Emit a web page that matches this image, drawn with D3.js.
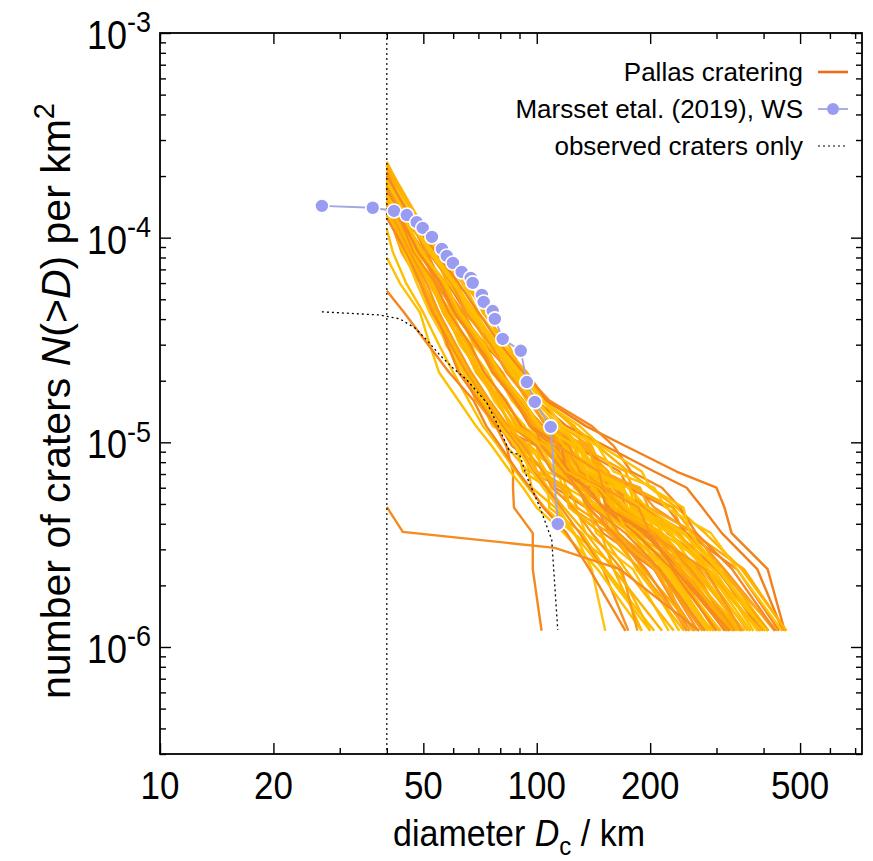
<!DOCTYPE html>
<html><head><meta charset="utf-8">
<script src="https://cdn.jsdelivr.net/npm/d3@7"></script>
<style>
html,body{margin:0;padding:0;background:#fff;}
svg{display:block;font-family:"Liberation Sans",Arial,Helvetica,sans-serif;}
</style>
</head><body>
<svg id="chart" width="873" height="861"></svg>
<script>
// ---------------- data ----------------
const xTickValues = [10, 20, 50, 100, 200, 500];
const yTickExponents = [-3, -4, -5, -6];
const cutoffD = 40; // km, lower limit of simulated craters

// Marsset et al. (2019), WS
const marssetD = [26.9, 36.7, 41.8, 45.2, 48.0, 49.8, 52.7, 56.0, 57.7, 59.9, 63.2, 66.8, 67.6, 71.5, 72.3, 76.4, 77.4, 81.2, 90.7, 94.1, 98.8, 108.9, 113.7];
const marssetN = [1.43e-4, 1.40e-4, 1.35e-4, 1.29e-4, 1.19e-4, 1.115e-4, 1.008e-4, 8.81e-5, 8.14e-5, 7.52e-5, 6.80e-5, 6.36e-5, 6.01e-5, 5.25e-5, 4.85e-5, 4.38e-5, 4.01e-5, 3.20e-5, 2.80e-5, 1.97e-5, 1.575e-5, 1.19e-5, 3.99e-6];

// observed craters only
const observedD = [26.9, 38.3, 43.3, 47.5, 51.1, 55.3, 59.9, 65.2, 73.7, 78.3, 84.8, 90.1, 94.1, 101.8, 109.6, 112.3, 113.7];
const observedN = [4.34e-5, 4.19e-5, 4.01e-5, 3.62e-5, 3.16e-5, 2.67e-5, 2.31e-5, 2.02e-5, 1.56e-5, 1.245e-5, 8.98e-6, 8.68e-6, 6.78e-6, 4.84e-6, 3.34e-6, 1.70e-6, 1.21e-6];

// Pallas cratering runs: density levels, density at D = 40 km, and diameter at which each run reaches each level
const levelsN = [1.2e-4, 8.5e-5, 6.0e-5, 4.3e-5, 3.0e-5, 2.2e-5, 1.6e-5, 1.2e-5, 9.6e-6, 7.2e-6, 6.0e-6, 4.8e-6, 3.6e-6, 2.4e-6, 1.2e-6];
const runStartN = [
 2.3e-4, 1.7e-4, 1.5e-4, 1.8e-4, 1.95e-4, 2.1e-4, 1.85e-4, 1.3e-4, 1.65e-4, 2.0e-4,
 1.45e-4, 1.75e-4, 2.2e-4, 1.6e-4, 1.55e-4, 2.05e-4, 1.35e-4, 1.7e-4, 1.9e-4, 1.8e-4,
 1.6e-4, 1.65e-4, 1.4e-4, 2.25e-4, 1.75e-4, 1.85e-4, 1.28e-4, 1.55e-4, 1.5e-4, 1.9e-4,
 2.0e-4, 1.6e-4, 1.45e-4, 2.15e-4, 1.85e-4, 1.4e-4, 1.8e-4, 1.65e-4, 1.55e-4, 1.7e-4,
 1.95e-4, 1.8e-4, 1.6e-4, 2.1e-4, 1.6e-4, 1.3e-4, 1.9e-4, 1.5e-4, 2.0e-4, 1.75e-4,
 2.35e-4, 1.45e-4, 1.7e-4, 1.35e-4, 1.9e-4, 1.8e-4, 1.65e-4, 1.6e-4, 1.95e-4, 1.85e-4,
 1.55e-4, 1.75e-4, 2.05e-4, 1.7e-4, 1.25e-4, 1.85e-4, 1.75e-4, 1.5e-4, 1.6e-4, 2.1e-4,
 1.5e-4, 1.4e-4, 1.3e-4, 1.25e-4, 1.1e-4, 8.0e-5, 5.5e-5, 2.0e-4, 1.9e-4, 1.45e-4,
 1.35e-4
];
const runDiam = [
 [49,55,66,72,84,92,106,124,140,150,181,230,244,312,412],
 [44.5,48.5,57,61,72,77,91,99,120,128,165,172,235,300,400],
 [42,47.5,51.5,59,64,72,79,90,100,122,126,147,190,205,294],
 [44,48.5,55.5,60,70,76,88,96,112,116,135,138,157,214,252],
 [45.5,53,59,68,76,87,96,111,118,143,150,195,205,275,363],
 [48,53,58,65,79,94,106,135,172,235,300,315,329,410,455],
 [46,51,56,62,73,85,100,120,152,205,250,275,310,385,450],
 [41.2,45,49,54,57.5,64,69,78,83,95,97,112,125,165,200],
 [45,49.5,57.5,62,73,79,92,102,118,130,155,165,210,250,340],
 [46,51.5,60,64.5,76,83,96,106,135,150,185,205,260,315,428],
 [42.5,46,53,56.5,64,69,79,85,103,118,146,160,208,250,344],
 [43.5,49.5,54,61.5,69,79.5,87,99,104,124,127,145,155,205,255],
 [48,54,64,70,82,90,104,117,130,138,160,165,200,230,307],
 [44.5,49,57,61,72,78,90,99,115,128,150,158,205,240,325],
 [43.5,47,54,58,67,72,83,91,108,116,140,148,185,225,305],
 [46,53.5,60,69,77,89,99,115,124,152,160,195,215,295,376],
 [41.5,45.5,49.5,55,59,66,71,80,86,106,112,135,150,205,262],
 [43,49.5,54.5,62,68,78,86,98,120,135,168,180,235,280,388],
 [46.5,52,61,66,78,85,98,109,123,128,150,152,185,215,286],
 [44,50.5,56,64,71,81,90,104,108,128,130,152,162,212,268],
 [43,46.5,53,57.5,66,70,81,88,112,124,152,168,215,260,356],
 [44.5,48.5,55,60,71,77.5,89,97,113,122,148,155,198,238,323],
 [41.8,47,51.5,57.5,62.5,71,77,87,90,106,109,127,135,180,224],
 [47.5,56.5,64,74,81,94,103,126,132,155,160,185,198,262,325],
 [43.5,50,55.5,63,70,80,88,101,108,135,140,172,188,258,330],
 [45,52.5,58.5,66,74,85,94,108,125,134,162,170,215,262,353],
 [41,43.8,49,52.5,59.5,64,72,79,100,110,138,148,195,232,320],
 [44,48.5,55.5,60.5,70,76.5,88,96,106,130,136,168,182,250,320],
 [42.5,48,52.5,59.5,65.5,74,81,93,96,114,117,136,144,190,239],
 [45,49.5,57,62.5,73,79.5,92,102,130,142,178,192,250,300,412],
 [47,52.5,61.5,67,79,87,101,113,120,142,145,168,180,236,296],
 [43.5,49.5,54,61,69.5,79,87.5,99,112,148,155,198,222,302,392],
 [42,47.5,52,58.5,64.5,72,79.5,90,102,112,133,142,178,218,290],
 [48,54.5,63.5,70,82,90,104,117,138,147,178,188,238,285,389],
 [44.5,49,56.5,61.5,71.5,78,89.5,99,104,124,126,147,158,206,260],
 [41.3,44,50,53,58.5,62.5,70.5,76.5,96,106,132,143,188,222,308],
 [45.5,53,59.5,67.5,76.5,86.5,96.5,111,126,166,175,222,250,340,440],
 [43,49,55.5,60.5,69.5,76.5,87.5,96.5,108,114,130,135,162,184,246],
 [42.3,46,52.5,56.5,63.5,69.5,78.5,85.5,92,116,120,148,162,222,284],
 [44,50.5,56,63.5,71.5,80.5,90.5,103.5,114,136,146,174,198,270,348],
 [46,51.5,59.5,65,75.5,83.5,95.5,106,120,124,144,148,178,208,278],
 [43.5,49.5,54,61,69,79,87.5,98.5,112,120,150,155,200,232,318],
 [43.5,47,53.5,58.5,66.5,72.5,82.5,91,115,128,158,172,225,265,368],
 [46,53.5,60.5,68.5,77.5,88.5,99.5,115,130,172,180,230,260,355,458],
 [44.5,49,56.5,61.5,71.5,78.5,89.5,99,118,122,152,160,203,243,335],
 [41,45.5,49.5,55,59.5,65.5,71.5,79.5,88,92,107,108,132,152,205],
 [44,48.5,55.5,60.5,69.5,76.5,87.5,96,110,122,145,156,192,240,315],
 [43,46.5,53,57.5,65.5,70.5,80.5,88.5,100,103,120,122,148,172,231],
 [45.5,53,59.5,67.5,76.5,86.5,96.5,111,130,135,170,174,228,262,370],
 [45,49.5,57,62.5,72.5,79.5,91.5,102,110,126,133,150,165,210,275],
 [48,56,65,73,82,93,104,125,145,175,200,235,280,350,460],
 [42.5,46,52.5,56.5,63.5,69.5,78.5,85.5,100,110,128,140,172,212,280],
 [43.5,49.5,54,61,69.5,79,87.5,99,118,140,165,188,232,292,385],
 [41.2,43.8,49,52.5,59.5,64,71.5,79.5,94,100,121,128,162,192,264],
 [46,51.5,59.5,65,75.5,83.5,95.5,106,136,145,188,198,265,305,435],
 [43.5,50,55.5,62.5,70.5,79.5,88.5,100.5,126,134,176,183,248,285,410],
 [43.5,47,53.5,58.5,66.5,72.5,82.5,91,106,118,136,150,183,228,300],
 [44,48.5,55.5,60.5,69.5,76.5,87.5,96,122,132,170,178,240,275,395],
 [46,53.5,60.5,68.5,77.5,88.5,99.5,115,130,145,168,185,225,282,370],
 [45,49.5,57,62.5,72.5,79.5,91.5,102,122,130,152,168,205,255,336],
 [43,46.5,53,57.5,65.5,70.5,80.5,88.5,110,125,152,170,212,265,350],
 [43.5,49.5,54,61,69.5,79,87.5,99,103,118,128,137,160,195,250],
 [48,54.5,63.5,70,82,90,104,117,145,160,205,220,290,340,448],
 [44.5,49,56.5,61.5,71.5,78.5,89.5,99,118,124,154,158,204,240,332],
 [40.6,45,49,54,57.5,64,69,78,90,96,116,123,156,187,254],
 [46.5,52,61,66,78,85,98,109,118,135,140,160,175,225,290],
 [44,48.5,55.5,60.5,69.5,76.5,87.5,96,116,120,148,153,198,232,325],
 [42.5,46,52.5,56.5,63.5,69.5,78.5,85.5,106,120,146,162,212,248,350],
 [45,49.5,57,62.5,72.5,79.5,91.5,102,128,142,175,196,246,302,405],
 [46,51.5,59.5,65,75.5,83.5,95.5,106,114,146,150,186,200,280,350],
 [42,46,50,54,60,66,74,82,90,100,107,118,135,160,190],
 [41.5,45,49,53,59,65,73,81,89,98,106,116,130,150,175],
 [41,44.5,48,52,58,64,72,80,88,97,104,114,126,140,152],
 [40.5,45,50,54,58,62,70,78,83,86.5,86.5,87,97.6,97.6,103],
 [null,41.5,45,50,55,60,66,72,79,88,95,105,125,150,200],
 [null,null,43.3,49,52,55,62,69,76,85,92,100,118,145,190],
 [null,null,null,44.5,51.5,58.5,68,73.5,80,89,96,104,120,138,172],
 [47,54,62,70,80,92,108,140,160,178,215,240,265,330,430],
 [46,52,60,68,79,90,103,130,148,190,200,245,255,305,405],
 [42,46,51,55,61,67,75,84,92,104,110,125,140,168,185],
 [41.5,45.5,50,54,60,66,74,83,95,100,118,122,148,160,215]
];
// one run with very few large craters
const sparseRunD = [40, 44.1, 111.7, 166, 270];
const sparseRunN = [4.83e-6, 3.65e-6, 3.05e-6, 2.4e-6, 1.2e-6];

const legendLabels = ["Pallas cratering", "Marsset etal. (2019), WS", "observed craters only"];

// ---------------- drawing ----------------
const svg = d3.select("#chart");
const P = {l: 160, r: 862, t: 33, b: 754};
const x = d3.scaleLog().domain([10, 730]).range([P.l, P.r]);
const y = d3.scaleLog().domain([3e-7, 1e-3]).range([P.b, P.t]);

svg.append("defs").append("clipPath").attr("id", "plotclip")
  .append("rect").attr("x", P.l).attr("y", P.t).attr("width", P.r - P.l).attr("height", P.b - P.t);

const isMajorY = v => Math.abs(Math.log10(v) - Math.round(Math.log10(v))) < 1e-6;
const isMajorX = v => xTickValues.some(t => Math.abs(t - v) < 1e-6);
const xAll = x.ticks();
const yAll = y.ticks();
const xMaj = xAll.filter(isMajorX), xMin = xAll.filter(v => !isMajorX(v));
const yMaj = yAll.filter(isMajorY), yMin = yAll.filter(v => !isMajorY(v));

const plot = svg.append("g").attr("clip-path", "url(#plotclip)");
const line = d3.line().x(p => x(p[0])).y(p => y(p[1]));

const palette = ["#ffb300", "#f7921e", "#ffc20e", "#ffab00", "#fca71a", "#ffbb00", "#f58a1f", "#ffb700", "#ffc000", "#f99a1b"];
const special = {5: "#f2801b", 6: "#f2801b", 73: "#f5891e", 74: "#ffbf00", 75: "#ffc000", 76: "#f5871f", 77: "#f58a1f"};

runDiam.forEach((ds, i) => {
  const pts = [[cutoffD, runStartN[i]]];
  ds.forEach((d, k) => { if (d != null) pts.push([d, levelsN[k]]); });
  plot.append("path").attr("d", line(pts)).attr("fill", "none")
    .attr("stroke", special[i] || palette[i % palette.length])
    .attr("stroke-width", 2.4).attr("stroke-linejoin", "round");
});
plot.append("path").attr("d", line(sparseRunD.map((d, i) => [d, sparseRunN[i]])))
  .attr("fill", "none").attr("stroke", "#f68b1f").attr("stroke-width", 2.4);

// observed craters only
plot.append("path").attr("d", line(observedD.map((d, i) => [d, observedN[i]])))
  .attr("fill", "none").attr("stroke", "#000").attr("stroke-width", 1.3).attr("stroke-dasharray", "2,3");

// vertical cutoff line
plot.append("line").attr("x1", x(cutoffD)).attr("x2", x(cutoffD)).attr("y1", P.t).attr("y2", P.b)
  .attr("stroke", "#000").attr("stroke-width", 1.2).attr("stroke-dasharray", "2,3");

// Marsset
const mPts = marssetD.map((d, i) => [d, marssetN[i]]);
plot.append("path").attr("d", line(mPts)).attr("fill", "none").attr("stroke", "#a3a4e2").attr("stroke-width", 1.8);
plot.selectAll("circle.m").data(mPts).enter().append("circle")
  .attr("cx", p => x(p[0])).attr("cy", p => y(p[1])).attr("r", 7)
  .attr("fill", "#9a9cf2").attr("stroke", "#fff").attr("stroke-width", 1.6);

// axes (inward ticks on all four sides)
function tickAxis(axisFn, scale, vals, len, tr) {
  const g = svg.append("g").attr("transform", tr)
    .call(axisFn(scale).tickValues(vals).tickSize(len).tickFormat(""));
  g.select(".domain").remove();
  g.selectAll(".tick line").attr("stroke", "#000").attr("stroke-width", 1.4);
  return g;
}
tickAxis(d3.axisBottom, x, xMaj, -11, `translate(0,${P.b})`);
tickAxis(d3.axisBottom, x, xMin, -6, `translate(0,${P.b})`);
tickAxis(d3.axisTop, x, xMaj, -11, `translate(0,${P.t})`);
tickAxis(d3.axisTop, x, xMin, -6, `translate(0,${P.t})`);
tickAxis(d3.axisLeft, y, yMaj, -11, `translate(${P.l},0)`);
tickAxis(d3.axisLeft, y, yMin, -6, `translate(${P.l},0)`);
tickAxis(d3.axisRight, y, yMaj, -11, `translate(${P.r},0)`);
tickAxis(d3.axisRight, y, yMin, -6, `translate(${P.r},0)`);

svg.append("rect").attr("x", P.l).attr("y", P.t).attr("width", P.r - P.l).attr("height", P.b - P.t)
  .attr("fill", "none").attr("stroke", "#000").attr("stroke-width", 1.8);

// tick labels
svg.selectAll("text.xl").data(xTickValues).enter().append("text")
  .attr("transform", d => `translate(${x(d)},799) scale(1,1.12)`).attr("text-anchor", "middle")
  .attr("font-size", 35).attr("fill", "#000").text(d => d);

yTickExponents.forEach(e => {
  const t = svg.append("text")
    .attr("transform", `translate(151,${y(Math.pow(10, e)) + 16}) scale(1,1.12)`)
    .attr("text-anchor", "end").attr("font-size", 36).attr("fill", "#000");
  t.append("tspan").text("10");
  t.append("tspan").attr("font-size", 27).attr("dy", -15).text("-" + Math.abs(e));
});

// axis titles
const xt = svg.append("text").attr("transform", "translate(519,846) scale(1,1.1)")
  .attr("text-anchor", "middle").attr("font-size", 34);
xt.append("tspan").text("diameter ");
xt.append("tspan").attr("font-style", "italic").text("D");
xt.append("tspan").attr("font-size", 24).attr("dy", 8).text("c");
xt.append("tspan").attr("dy", -8).text(" / km");

const yt = svg.append("text").attr("transform", "translate(70,401) rotate(-90)")
  .attr("text-anchor", "middle").attr("font-size", 41);
yt.append("tspan").text("number of craters ");
yt.append("tspan").attr("font-style", "italic").text("N");
yt.append("tspan").text("(>");
yt.append("tspan").attr("font-style", "italic").text("D");
yt.append("tspan").text(") per km");
yt.append("tspan").attr("font-size", 29).attr("dy", -16).text("2");

// legend
const lg = svg.append("g");
const rowsY = [72, 109, 146];
legendLabels.forEach((lab, i) => {
  lg.append("text").attr("x", 803).attr("y", rowsY[i] + 9).attr("text-anchor", "end")
    .attr("font-size", 26).attr("fill", "#000").text(lab);
});
lg.append("line").attr("x1", 818).attr("x2", 848).attr("y1", rowsY[0]).attr("y2", rowsY[0])
  .attr("stroke", "#f26b1d").attr("stroke-width", 2.6);
lg.append("line").attr("x1", 818).attr("x2", 848).attr("y1", rowsY[1]).attr("y2", rowsY[1])
  .attr("stroke", "#a3a4e2").attr("stroke-width", 1.8);
lg.append("circle").attr("cx", 833).attr("cy", rowsY[1]).attr("r", 6)
  .attr("fill", "#9a9cf2");
lg.append("line").attr("x1", 818).attr("x2", 848).attr("y1", rowsY[2]).attr("y2", rowsY[2])
  .attr("stroke", "#000").attr("stroke-width", 1.2).attr("stroke-dasharray", "2,3");
</script>
</body></html>
